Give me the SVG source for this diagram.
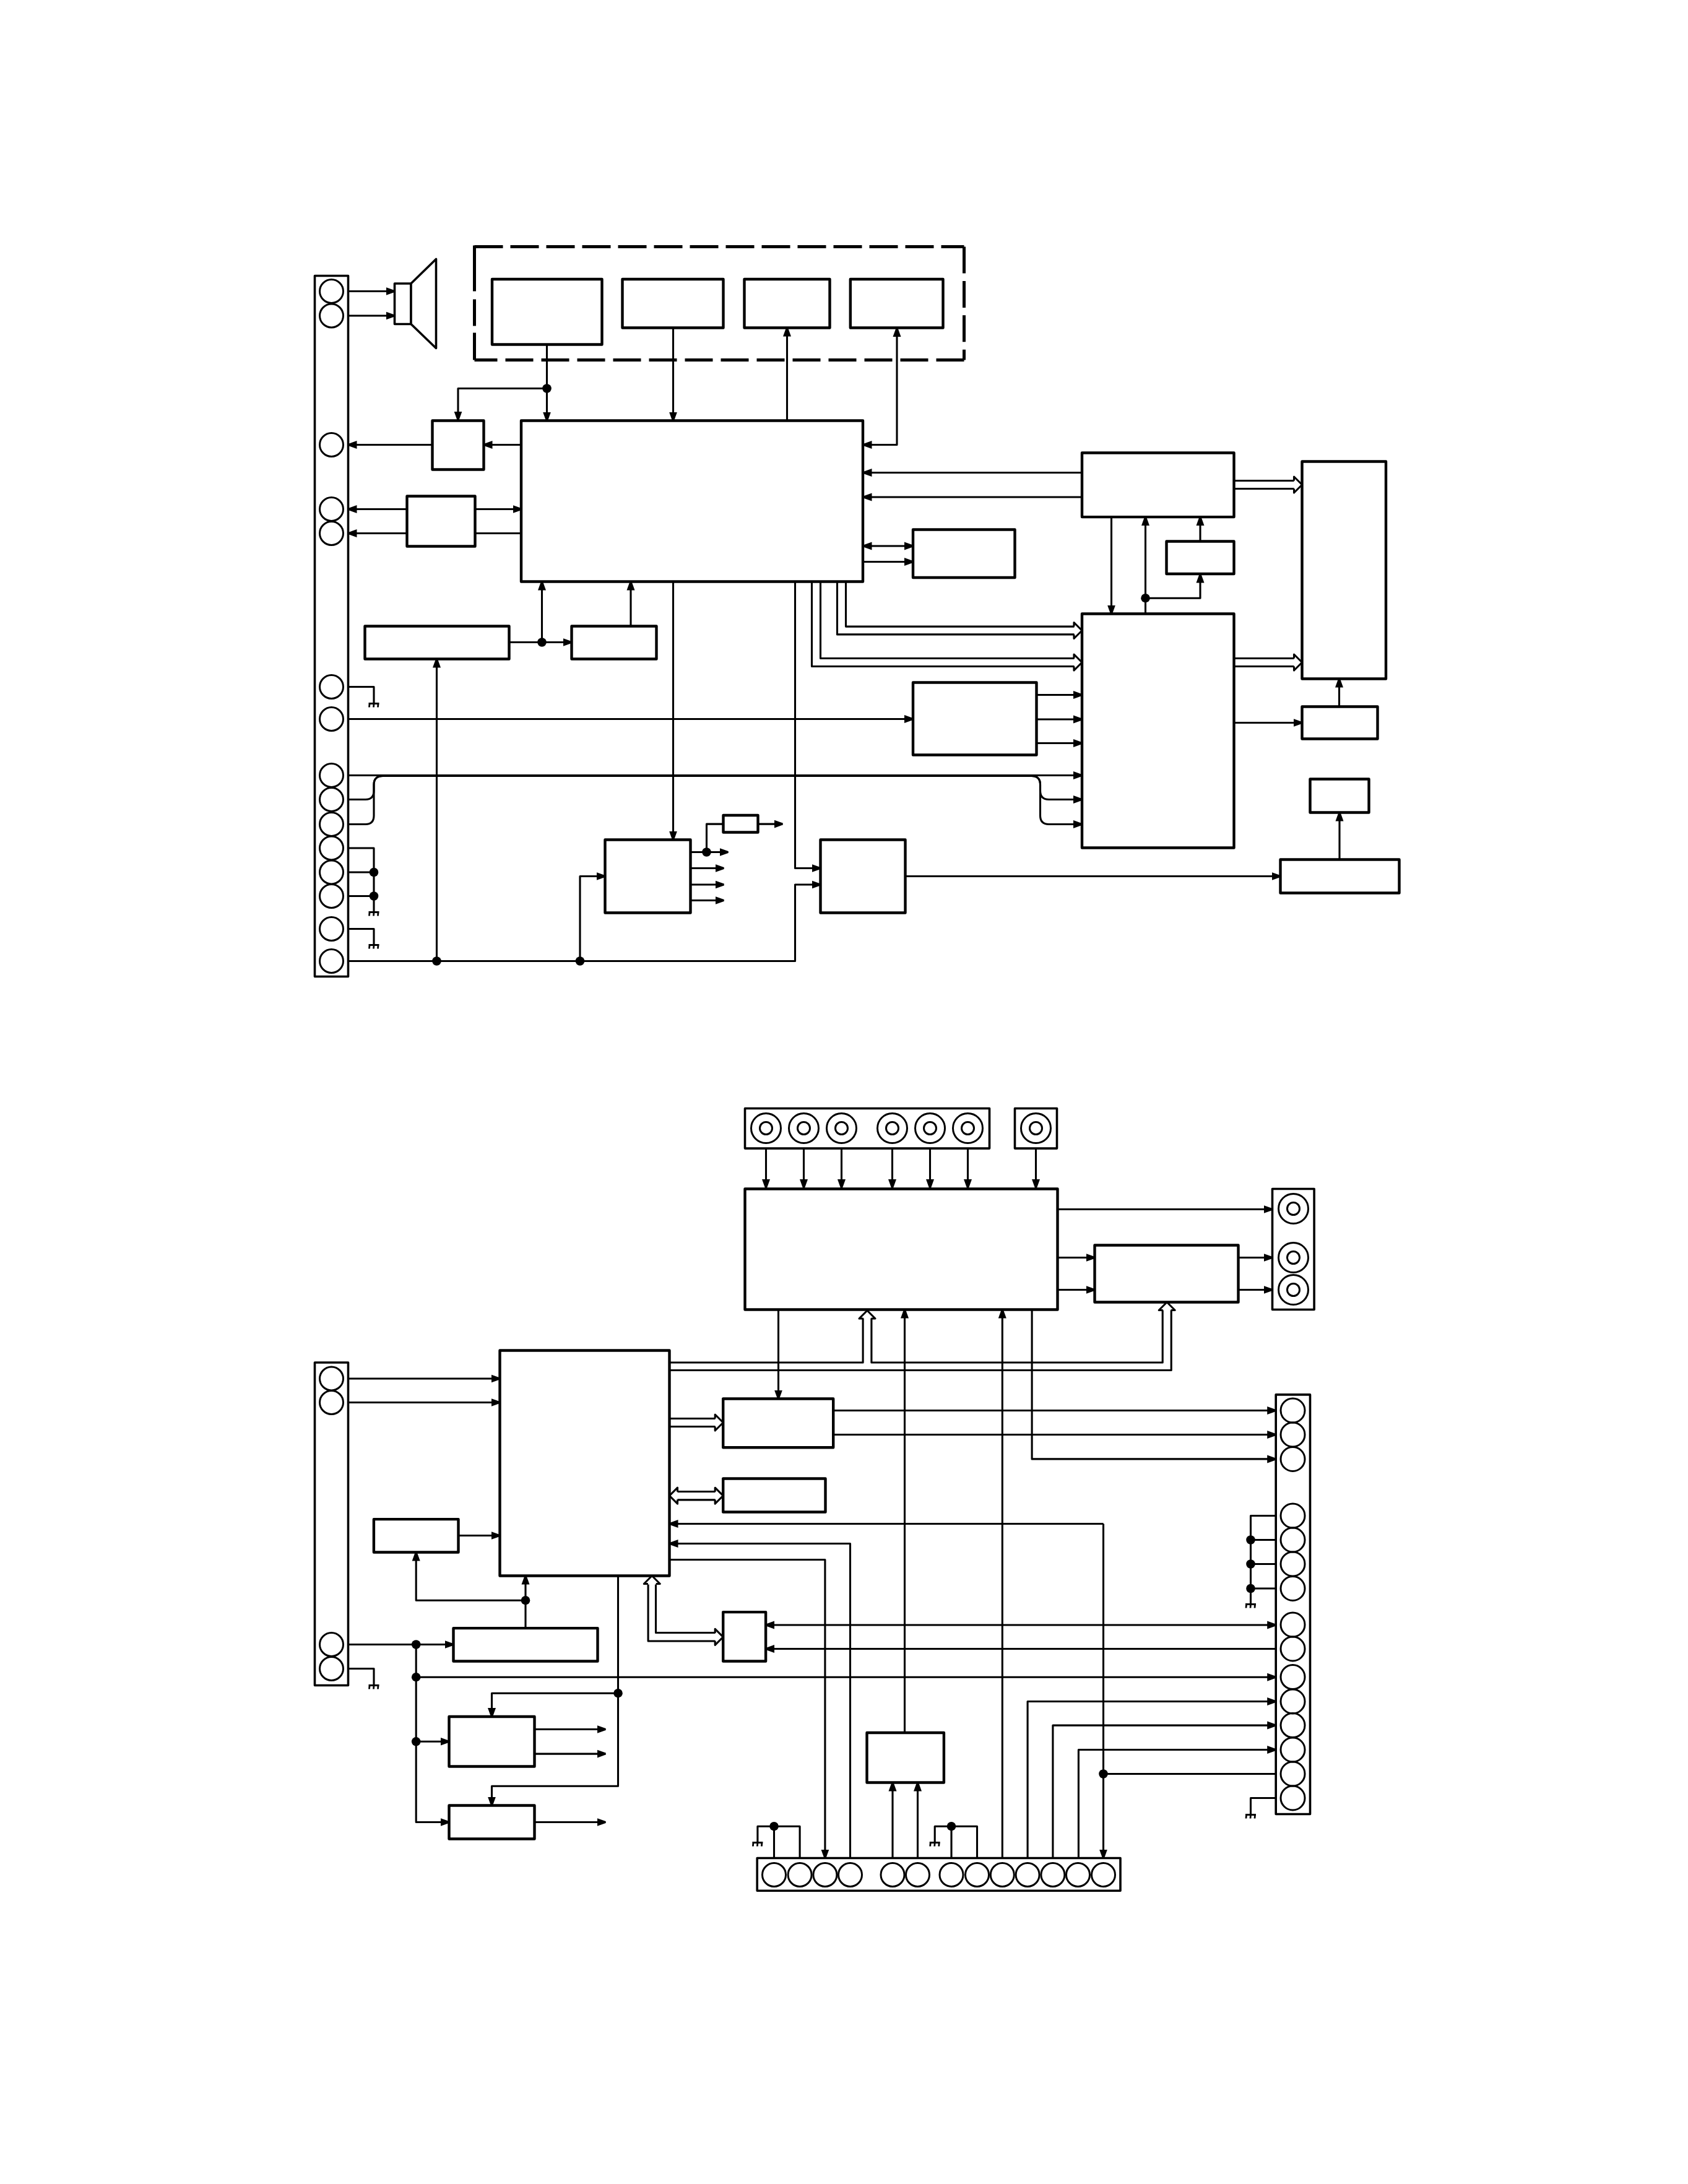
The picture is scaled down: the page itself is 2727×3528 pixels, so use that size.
<svg xmlns="http://www.w3.org/2000/svg" width="2727" height="3528" viewBox="0 0 2727 3528">
<style>
.box{fill:#fff;stroke:#000;stroke-width:4.4;stroke-linejoin:round}
.strip{fill:#fff;stroke:#000;stroke-width:3.6;stroke-linejoin:round}
.pin{fill:none;stroke:#000;stroke-width:3}
.w{fill:none;stroke:#000;stroke-width:3.1;stroke-linejoin:round}
.a{marker-end:url(#arr)}
.b{marker-start:url(#arr);marker-end:url(#arr)}
.dash{fill:none;stroke:#000;stroke-width:5}
.dot{fill:#000}
</style>
<defs>
<marker id="arr" markerUnits="userSpaceOnUse" markerWidth="15" markerHeight="15" refX="14" refY="7" orient="auto-start-reverse">
<path d="M0,0.5 L14,5.5 V8.5 L0,13.5 Z" fill="#000"/>
</marker>
<path id="hh" d="M-13,-6.4 V-13 L0,0 L-13,13 V6.4" fill="none" stroke="#000" stroke-width="3.1" stroke-linejoin="round"/>
<path id="gnd" d="M-8.5,1 H8.5 M-7,1 L-7.5,7 M0,1 L-0.5,7 M7,1 L6.5,7" fill="none" stroke="#000" stroke-width="2.8"/>
</defs>
<rect width="2727" height="3528" fill="#fff"/>
<g transform="translate(0.5,0.5)">

<!-- wiring -->
<g id="connectors">
<!-- upper board: speaker, panel units and main processor -->
<path class="w a" d="M562,470 H637"/>
<path class="w a" d="M562,509.5 H637"/>
<path class="w a" d="M883,556 V679"/>
<path class="w a" d="M883,627 H739.5 V678"/>
<path class="w a" d="M1087,529 V679"/>
<path class="w a" d="M1271,679 V529"/>
<path class="w b" d="M1448.5,529.5 V718 H1394"/>
<path class="w a" d="M842,718 H781"/>
<path class="w a" d="M698,718 H562"/>
<path class="w a" d="M657,822 H562"/>
<path class="w a" d="M657,861 H562"/>
<path class="w a" d="M767,822 H842"/>
<path class="w" d="M767,861 H842"/>
<path class="w a" d="M822,1037 H923"/>
<path class="w a" d="M875,1037 V939"/>
<path class="w a" d="M1018.5,1011 V939"/>
<path class="w a" d="M705,1552 V1064"/>
<path class="w a" d="M562,1552 H1284 V1428.5 H1325"/>
<path class="w a" d="M936.5,1552 V1415 H977"/>
<path class="w a" d="M1087,939 V1356"/>
<path class="w a" d="M1284,939 V1402 H1325"/>
<path class="w a" d="M1115,1376 H1176"/>
<path class="w" d="M1141,1376 V1330.6 H1168"/>
<path class="w a" d="M1224,1330.6 H1264"/>
<path class="w a" d="M1115,1402 H1169"/>
<path class="w a" d="M1115,1428.5 H1169"/>
<path class="w a" d="M1115,1454 H1169"/>
<path class="w" d="M562,1109 H603.5 V1135"/>
<path class="w" d="M562,1369.5 H603.5 V1472"/>
<path class="w" d="M562,1408.5 H603.5"/>
<path class="w" d="M562,1447 H603.5"/>
<path class="w" d="M562,1500 H603.5 V1525"/>
<path class="w a" d="M562,1161 H1474.5"/>
<path class="w a" d="M1674,1122 H1747.5"/>
<path class="w a" d="M1674,1161.5 H1747.5"/>
<path class="w a" d="M1674,1200 H1747.5"/>
<path class="w a" d="M562,1252 H1747.5"/>
<path class="w a" d="M562,1291 H590 Q603.5,1291 603.5,1277 V1267 Q603.5,1253 618,1253 H1666 Q1680,1253 1680,1267 V1277 Q1680,1291 1694,1291 H1747.5"/>
<path class="w a" d="M562,1331 H590 Q603.5,1331 603.5,1317 V1267 Q603.5,1253 618,1253 H1666 Q1680,1253 1680,1267 V1317 Q1680,1331 1694,1331 H1747.5"/>
<path class="w a" d="M1747.5,763 H1394"/>
<path class="w a" d="M1747.5,802.5 H1394"/>
<path class="w b" d="M1394,881.5 H1474.5"/>
<path class="w a" d="M1394,907 H1474.5"/>
<path class="w" d="M1366,939 V1011.6 H1735"/>
<path class="w" d="M1352,939 V1024.4 H1735"/>
<path class="w" d="M1325,939 V1063 H1735"/>
<path class="w" d="M1311,939 V1076 H1735"/>
<use href="#hh" transform="translate(1747.5,1018)"/>
<use href="#hh" transform="translate(1747.5,1069.5)"/>
<path class="w" d="M1993,776 H2090"/>
<path class="w" d="M1993,789 H2090"/>
<use href="#hh" transform="translate(2103,782.5)"/>
<path class="w" d="M1993,1063 H2090"/>
<path class="w" d="M1993,1076 H2090"/>
<use href="#hh" transform="translate(2103,1069.5)"/>
<path class="w a" d="M1795,834.6 V991"/>
<path class="w a" d="M1850,991 V834.6"/>
<path class="w a" d="M1850,965.7 H1938.5 V927"/>
<path class="w a" d="M1938.5,874 V834.6"/>
<path class="w a" d="M1993,1167 H2103"/>
<path class="w a" d="M2163,1141 V1096"/>
<path class="w a" d="M1462,1415 H2068"/>
<path class="w a" d="M2163.5,1388 V1312"/>

<!-- lower board: signal switch, video processor and connectors -->
<path class="w a" d="M1237,1854.6 V1918.5"/>
<path class="w a" d="M1298,1854.6 V1918.5"/>
<path class="w a" d="M1359,1854.6 V1918.5"/>
<path class="w a" d="M1441,1854.6 V1918.5"/>
<path class="w a" d="M1502,1854.6 V1918.5"/>
<path class="w a" d="M1563,1854.6 V1918.5"/>
<path class="w a" d="M1673,1854.6 V1918.5"/>
<path class="w a" d="M1708,1953 H2055"/>
<path class="w a" d="M1708,2031 H1768"/>
<path class="w a" d="M1708,2083 H1768"/>
<path class="w a" d="M2000,2031 H2055"/>
<path class="w a" d="M2000,2083 H2055"/>
<path class="w" d="M1081,2200.5 H1393.6 V2129"/>
<path class="w" d="M1407.4,2129 V2200.5 H1877.7 V2116"/>
<path class="w" d="M1081,2213 H1891.7 V2116"/>
<use href="#hh" transform="translate(1400.5,2116.5) rotate(-90)"/>
<use href="#hh" transform="translate(1884.7,2103) rotate(-90)"/>
<path class="w a" d="M562,2226.5 H807"/>
<path class="w a" d="M562,2265 H807"/>
<path class="w a" d="M740,2480 H807"/>
<path class="w a" d="M848.5,2629.6 V2545"/>
<path class="w a" d="M848.5,2584.7 H671.7 V2507"/>
<path class="w a" d="M562,2656 H732"/>
<path class="w a" d="M671.7,2656 V2943 H725"/>
<path class="w a" d="M671.7,2812.8 H725"/>
<path class="w a" d="M671.7,2708.7 H2060.7"/>
<path class="w a" d="M863,2793 H978"/>
<path class="w a" d="M863,2832.6 H978"/>
<path class="w a" d="M863,2943 H978"/>
<path class="w a" d="M998,2545 V2884.7 H794 V2916"/>
<path class="w a" d="M998,2734.7 H794 V2772.5"/>
<path class="w" d="M562,2695 H603.5 V2721"/>
<path class="w a" d="M1257,2115 V2259"/>
<path class="w" d="M1081,2291 H1155"/>
<path class="w" d="M1081,2304 H1155"/>
<use href="#hh" transform="translate(1167.7,2297.5)"/>
<path class="w" d="M1094,2409 H1155"/>
<path class="w" d="M1094,2422.4 H1155"/>
<use href="#hh" transform="translate(1167.7,2415.7)"/>
<use href="#hh" transform="translate(1081,2415.7) rotate(180)"/>
<path class="w a" d="M1782,2461 H1081"/>
<path class="w a" d="M1782,2461 V3001"/>
<path class="w" d="M2060.7,2865 H1782"/>
<path class="w a" d="M1373,3001 V2493 H1081"/>
<path class="w a" d="M1081,2519 H1332.4 V3001"/>
<path class="w" d="M1046.6,2559 V2650.5 H1155"/>
<path class="w" d="M1059,2559 V2637 H1155"/>
<use href="#hh" transform="translate(1052.8,2545) rotate(-90)"/>
<use href="#hh" transform="translate(1167.7,2643.8)"/>
<path class="w b" d="M2060.7,2624.5 H1236.6"/>
<path class="w a" d="M2060.7,2663 H1236.6"/>
<path class="w a" d="M1461,2798.5 V2115"/>
<path class="w a" d="M1618.8,3001 V2115"/>
<path class="w a" d="M1666.6,2115 V2356.4 H2060.7"/>
<path class="w a" d="M1346,2278 H2060.7"/>
<path class="w a" d="M1346,2317 H2060.7"/>
<path class="w a" d="M1659.6,3001 V2748 H2060.7"/>
<path class="w a" d="M1700.4,3001 V2786.6 H2060.7"/>
<path class="w a" d="M1741.9,3001 V2826 H2060.7"/>
<path class="w a" d="M1441.5,3001 V2879"/>
<path class="w a" d="M1482,3001 V2879"/>
<path class="w" d="M2060.7,2448 H2020 V2590"/>
<path class="w" d="M2060.7,2487 H2020"/>
<path class="w" d="M2060.7,2526 H2020"/>
<path class="w" d="M2060.7,2565.5 H2020"/>
<path class="w" d="M2060.7,2904 H2020 V2930"/>
<path class="w" d="M1223.4,2975 V2949.7 H1291.6 V3001"/>
<path class="w" d="M1250,2949.7 V3001"/>
<path class="w" d="M1509.7,2975 V2949.7 H1578 V3001"/>
<path class="w" d="M1536.5,2949.7 V3001"/>

<!-- junctions -->
<circle class="dot" cx="883" cy="627" r="7.3"/>
<circle class="dot" cx="875" cy="1037" r="7.3"/>
<circle class="dot" cx="705" cy="1552" r="7.3"/>
<circle class="dot" cx="936.5" cy="1552" r="7.3"/>
<circle class="dot" cx="1141" cy="1376" r="7.3"/>
<circle class="dot" cx="603.5" cy="1408.5" r="7.3"/>
<circle class="dot" cx="603.5" cy="1447" r="7.3"/>
<circle class="dot" cx="1850" cy="965.7" r="7.3"/>
<circle class="dot" cx="848.5" cy="2584.7" r="7.3"/>
<circle class="dot" cx="671.7" cy="2656" r="7.3"/>
<circle class="dot" cx="671.7" cy="2708.7" r="7.3"/>
<circle class="dot" cx="671.7" cy="2812.8" r="7.3"/>
<circle class="dot" cx="998" cy="2734.7" r="7.3"/>
<circle class="dot" cx="1782" cy="2865" r="7.3"/>
<circle class="dot" cx="2020" cy="2487" r="7.3"/>
<circle class="dot" cx="2020" cy="2526" r="7.3"/>
<circle class="dot" cx="2020" cy="2565.5" r="7.3"/>
<circle class="dot" cx="1250" cy="2949.7" r="7.3"/>
<circle class="dot" cx="1536.5" cy="2949.7" r="7.3"/>

<!-- chassis grounds -->
<use href="#gnd" x="603.5" y="1135"/>
<use href="#gnd" x="603.5" y="1472"/>
<use href="#gnd" x="603.5" y="1525"/>
<use href="#gnd" x="603.5" y="2721"/>
<use href="#gnd" x="2020" y="2590"/>
<use href="#gnd" x="2020" y="2930"/>
<use href="#gnd" x="1223.4" y="2975"/>
<use href="#gnd" x="1509.7" y="2975"/>
</g>

<!-- upper board -->
<g id="panel-frame">
<path class="dash" stroke-dasharray="46 12" d="M766,398 H1557"/>
<path class="dash" stroke-dasharray="43 12.4" d="M1557,398 V581"/>
<path class="dash" stroke-dasharray="45 13" d="M1557,581 H766"/>
<path class="dash" stroke-dasharray="44 11 43 13 75" d="M766,581 V396"/>
</g>
<g id="connector-j1">
<rect class="strip" x="508" y="445" width="54" height="1132"/>
<circle class="pin" cx="535" cy="470" r="19"/>
<circle class="pin" cx="535" cy="509.5" r="19"/>
<circle class="pin" cx="535" cy="718" r="19"/>
<circle class="pin" cx="535" cy="822" r="19"/>
<circle class="pin" cx="535" cy="861" r="19"/>
<circle class="pin" cx="535" cy="1109" r="19"/>
<circle class="pin" cx="535" cy="1161" r="19"/>
<circle class="pin" cx="535" cy="1252" r="19"/>
<circle class="pin" cx="535" cy="1291" r="19"/>
<circle class="pin" cx="535" cy="1331" r="19"/>
<circle class="pin" cx="535" cy="1369.5" r="19"/>
<circle class="pin" cx="535" cy="1408.5" r="19"/>
<circle class="pin" cx="535" cy="1447" r="19"/>
<circle class="pin" cx="535" cy="1500" r="19"/>
<circle class="pin" cx="535" cy="1552" r="19"/>
</g>
<g id="speaker">
<rect class="strip" x="637" y="457.5" width="26.5" height="65.5"/>
<path class="strip" d="M663.5,457.5 L704,418 V562 L663.5,523 Z"/>
</g>
<g id="unit-a"><rect class="box" x="794.5" y="450.5" width="177.5" height="105.5"/></g>
<g id="unit-b"><rect class="box" x="1005" y="450.5" width="163" height="78.5"/></g>
<g id="unit-c"><rect class="box" x="1202" y="450.5" width="138" height="78.5"/></g>
<g id="unit-d"><rect class="box" x="1373.3" y="450.5" width="149.7" height="78.5"/></g>
<g id="processor"><rect class="box" x="841.5" y="679" width="552" height="260"/></g>
<g id="driver-a"><rect class="box" x="698" y="679" width="83" height="79"/></g>
<g id="driver-b"><rect class="box" x="657" y="801" width="110" height="81"/></g>
<g id="regulator-a"><rect class="box" x="589" y="1011" width="233" height="53"/></g>
<g id="regulator-b"><rect class="box" x="923" y="1011" width="137" height="53"/></g>
<g id="memory"><rect class="box" x="1474.5" y="855" width="164.5" height="77.5"/></g>
<g id="encoder"><rect class="box" x="1747.5" y="731" width="245.5" height="103.6"/></g>
<g id="clock"><rect class="box" x="1884" y="874" width="109" height="52.5"/></g>
<g id="decoder"><rect class="box" x="1747.5" y="991" width="245.5" height="378"/></g>
<g id="tuner"><rect class="box" x="1474.5" y="1102" width="199.5" height="117"/></g>
<g id="display"><rect class="box" x="2103" y="745" width="135.5" height="351"/></g>
<g id="backlight"><rect class="box" x="2103" y="1141" width="122" height="52"/></g>
<g id="lamp"><rect class="box" x="2116" y="1258" width="95" height="54"/></g>
<g id="inverter"><rect class="box" x="2068" y="1388" width="192" height="54"/></g>
<g id="power-a"><rect class="box" x="977" y="1356" width="138" height="118"/></g>
<g id="fuse"><rect class="box" x="1168" y="1316.5" width="56" height="27.5"/></g>
<g id="power-b"><rect class="box" x="1325" y="1356" width="137" height="118"/></g>

<!-- lower board -->
<g id="input-strip">
<rect class="strip" x="1203" y="1790" width="395" height="64.6"/>
<circle class="pin" cx="1237" cy="1822" r="24"/><circle class="pin" cx="1237" cy="1822" r="10"/>
<circle class="pin" cx="1298" cy="1822" r="24"/><circle class="pin" cx="1298" cy="1822" r="10"/>
<circle class="pin" cx="1359" cy="1822" r="24"/><circle class="pin" cx="1359" cy="1822" r="10"/>
<circle class="pin" cx="1441" cy="1822" r="24"/><circle class="pin" cx="1441" cy="1822" r="10"/>
<circle class="pin" cx="1502" cy="1822" r="24"/><circle class="pin" cx="1502" cy="1822" r="10"/>
<circle class="pin" cx="1563" cy="1822" r="24"/><circle class="pin" cx="1563" cy="1822" r="10"/>
</g>
<g id="input-single">
<rect class="strip" x="1639" y="1790" width="68" height="64.6"/>
<circle class="pin" cx="1673" cy="1822" r="24"/><circle class="pin" cx="1673" cy="1822" r="10"/>
</g>
<g id="switch"><rect class="box" x="1203" y="1920" width="505" height="195"/></g>
<g id="output-amp"><rect class="box" x="1768" y="2011" width="232" height="92"/></g>
<g id="output-strip">
<rect class="strip" x="2055" y="1920" width="67.6" height="195"/>
<circle class="pin" cx="2089" cy="1952" r="24"/><circle class="pin" cx="2089" cy="1952" r="10"/>
<circle class="pin" cx="2089" cy="2031" r="24"/><circle class="pin" cx="2089" cy="2031" r="10"/>
<circle class="pin" cx="2089" cy="2083" r="24"/><circle class="pin" cx="2089" cy="2083" r="10"/>
</g>
<g id="connector-j2">
<rect class="strip" x="508" y="2200.5" width="54" height="521.5"/>
<circle class="pin" cx="535" cy="2226.5" r="19"/>
<circle class="pin" cx="535" cy="2265" r="19"/>
<circle class="pin" cx="535" cy="2656" r="19"/>
<circle class="pin" cx="535" cy="2695" r="19"/>
</g>
<g id="controller"><rect class="box" x="807" y="2181" width="274" height="364"/></g>
<g id="oscillator"><rect class="box" x="603.4" y="2453.6" width="136.6" height="53.4"/></g>
<g id="supply"><rect class="box" x="732" y="2629.6" width="233" height="53.4"/></g>
<g id="amp-a"><rect class="box" x="725" y="2772.5" width="138" height="80.5"/></g>
<g id="amp-b"><rect class="box" x="725" y="2916" width="138" height="54"/></g>
<g id="memory-a"><rect class="box" x="1167.7" y="2259" width="178" height="78.8"/></g>
<g id="memory-b"><rect class="box" x="1167.7" y="2388" width="165.3" height="54"/></g>
<g id="interface"><rect class="box" x="1167.7" y="2603.6" width="68.9" height="79.4"/></g>
<g id="sync"><rect class="box" x="1400" y="2798.5" width="124.4" height="80.5"/></g>
<g id="connector-j3">
<rect class="strip" x="2060.7" y="2252.4" width="55.3" height="677.6"/>
<circle class="pin" cx="2088" cy="2278" r="19.5"/>
<circle class="pin" cx="2088" cy="2317" r="19.5"/>
<circle class="pin" cx="2088" cy="2356.5" r="19.5"/>
<circle class="pin" cx="2088" cy="2448" r="19.5"/>
<circle class="pin" cx="2088" cy="2487" r="19.5"/>
<circle class="pin" cx="2088" cy="2526" r="19.5"/>
<circle class="pin" cx="2088" cy="2565.5" r="19.5"/>
<circle class="pin" cx="2088" cy="2624" r="19.5"/>
<circle class="pin" cx="2088" cy="2663" r="19.5"/>
<circle class="pin" cx="2088" cy="2708.6" r="19.5"/>
<circle class="pin" cx="2088" cy="2748" r="19.5"/>
<circle class="pin" cx="2088" cy="2786.6" r="19.5"/>
<circle class="pin" cx="2088" cy="2826" r="19.5"/>
<circle class="pin" cx="2088" cy="2865" r="19.5"/>
<circle class="pin" cx="2088" cy="2904" r="19.5"/>
</g>
<g id="connector-j4">
<rect class="strip" x="1222.7" y="3001" width="586.8" height="52.8"/>
<circle class="pin" cx="1250" cy="3028" r="19"/>
<circle class="pin" cx="1291.6" cy="3028" r="19"/>
<circle class="pin" cx="1332.4" cy="3028" r="19"/>
<circle class="pin" cx="1373" cy="3028" r="19"/>
<circle class="pin" cx="1441.5" cy="3028" r="19"/>
<circle class="pin" cx="1482" cy="3028" r="19"/>
<circle class="pin" cx="1536.5" cy="3028" r="19"/>
<circle class="pin" cx="1578" cy="3028" r="19"/>
<circle class="pin" cx="1618.8" cy="3028" r="19"/>
<circle class="pin" cx="1659.6" cy="3028" r="19"/>
<circle class="pin" cx="1700.4" cy="3028" r="19"/>
<circle class="pin" cx="1741" cy="3028" r="19"/>
<circle class="pin" cx="1782" cy="3028" r="19"/>
</g>
</g>
</svg>
